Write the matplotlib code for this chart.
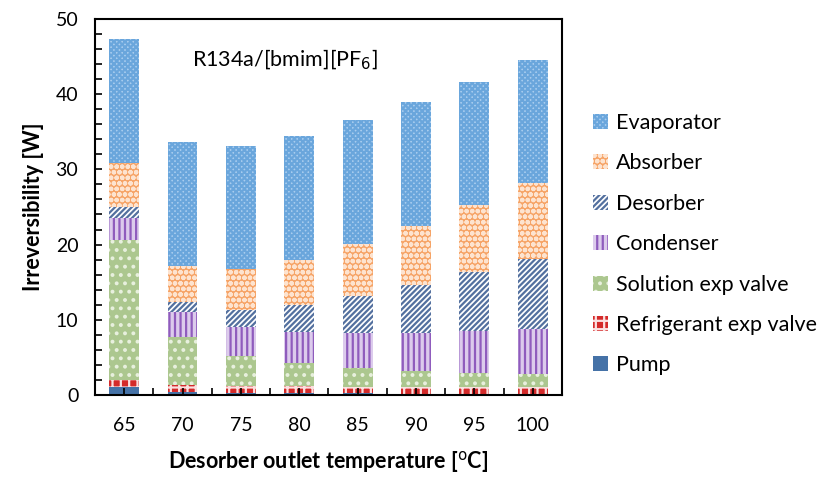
import numpy as np
import matplotlib
matplotlib.use('Agg')
import matplotlib.pyplot as plt
from matplotlib.patches import Patch

plt.rcParams['font.family'] = ['Lato', 'DejaVu Sans']
plt.rcParams['hatch.linewidth'] = 1.6

temps = ['65', '70', '75', '80', '85', '90', '95', '100']

# irreversibility of each component [W], stacked bottom to top
pump = [1.0, 0.45, 0.3, 0.25, 0.2, 0.15, 0.15, 0.15]
refrig_valve = [1.0, 0.85, 0.9, 0.95, 0.9, 0.95, 0.95, 0.95]
solution_valve = [18.6, 6.35, 4.0, 3.0, 2.5, 2.1, 1.85, 1.65]
condenser = [3.0, 3.35, 3.85, 4.2, 4.65, 5.1, 5.55, 6.0]
desorber = [1.4, 1.3, 2.25, 3.5, 4.85, 6.3, 7.85, 9.35]
absorber = [5.9, 4.8, 5.4, 6.1, 7.0, 7.9, 8.85, 10.1]
evaporator = [16.5, 16.5, 16.4, 16.4, 16.4, 16.4, 16.4, 16.4]

series = [
    ('Pump', pump, dict(facecolor='#4572a7', edgecolor='#4572a7', hatch=None)),
    ('Refrigerant exp valve', refrig_valve, dict(facecolor='#d42a2a', edgecolor='#fbe0e0', hatch='++')),
    ('Solution exp valve', solution_valve, dict(facecolor='#acc78f', edgecolor='#e8f0de', hatch='..')),
    ('Condenser', condenser, dict(facecolor='#dccbec', edgecolor='#8f5cbd', hatch='|||')),
    ('Desorber', desorber, dict(facecolor='white', edgecolor='#53709f', hatch='//////')),
    ('Absorber', absorber, dict(facecolor='#f6a467', edgecolor='#fde3cf', hatch='ooo')),
    ('Evaporator', evaporator, dict(facecolor='#a9cdef', edgecolor='#6aa6dc', hatch='xxxxxx')),
]

fig = plt.figure(figsize=(8.22, 4.79), dpi=100)
ax = fig.add_axes([0.1156, 0.1754, 0.568, 0.785])

x = np.arange(len(temps))
bottom = np.zeros(len(temps))
handles = []
for name, vals, style in series:
    ax.bar(x, vals, width=0.51, bottom=bottom, linewidth=0, **style)
    bottom += np.array(vals)
    handles.append(Patch(label=name, linewidth=0, **style))

ax.text(0.208, 0.89, 'R134a/[bmim][PF$_6$]', transform=ax.transAxes,
        fontsize=15.5, va='center', ha='left')

ax.set_xlim(-0.5, len(temps) - 0.5)
ax.set_ylim(0, 50)
ax.set_xticks(x)
ax.set_xticklabels(temps, fontsize=14)
ax.set_xticks(np.arange(-0.5, len(temps), 1.0), minor=True)
ax.set_yticks(np.arange(0, 51, 10))
ax.set_yticks(np.arange(0, 51, 2), minor=True)
ax.tick_params(axis='both', which='both', direction='in', length=5, width=1.2, labelsize=14)
ax.tick_params(axis='x', which='major', pad=16)
ax.tick_params(axis='y', which='major', pad=12)
for s in ax.spines.values():
    s.set_linewidth(1.5)

ax.set_xlabel('Desorber outlet temperature [$^{\\mathrm{o}}$C]', fontsize=15.5, fontweight='bold', labelpad=11)
ax.set_ylabel('Irreversibility [W]', fontsize=15.5, fontweight='bold', labelpad=8)

fig.legend(handles=handles[::-1], loc='upper left', bbox_to_anchor=(0.698, 0.805),
           frameon=False, fontsize=15.5, handlelength=0.7, handleheight=0.7,
           handletextpad=0.35, labelspacing=0.95)

fig.savefig('out.png', dpi=100)
